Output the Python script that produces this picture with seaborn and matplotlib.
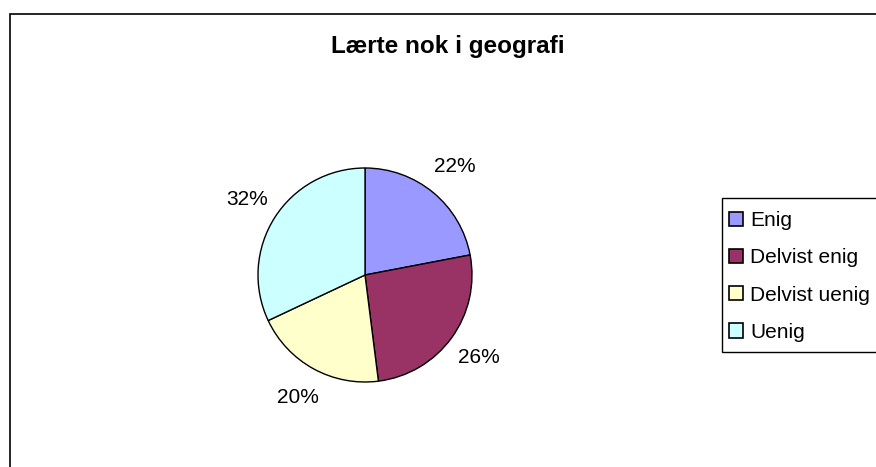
import matplotlib
matplotlib.use("Agg")
import matplotlib.pyplot as plt
import seaborn as sns
from matplotlib.patches import Rectangle, Patch

sns.set_theme(style="white")
plt.rcParams['font.family'] = ['Liberation Sans', 'DejaVu Sans']

title = "Lærte nok i geografi"
categories = ["Enig", "Delvist enig", "Delvist uenig", "Uenig"]
values = [22, 26, 20, 32]
colors = ["#9999FF", "#993366", "#FFFFCC", "#CCFFFF"]

W, H = 876, 467
fig = plt.figure(figsize=(W / 100, H / 100), dpi=100)
fig.patch.set_facecolor("white")

# outer chart frame (extends past right/bottom edges)
fig.patches.append(Rectangle((10 / W, -0.2), 1.5, 1.2 - 14 / H,
                             transform=fig.transFigure, fill=False,
                             edgecolor="black", linewidth=1.2))

cx, cy, r = 365, 275, 107
ax = fig.add_axes([(cx - r) / W, (H - cy - r) / H, 2 * r / W, 2 * r / H])
wedges, texts, autotexts = ax.pie(
    values, colors=colors, startangle=90, counterclock=False,
    autopct="%1.0f%%", pctdistance=1.31,
    wedgeprops=dict(edgecolor="black", linewidth=1.0),
    textprops=dict(fontsize=15, color="black"))
ax.set_xlim(-1, 1)
ax.set_ylim(-1, 1)
ax.set_aspect("equal")
ax.axis("off")

fig.text(448 / W, 1 - 46 / H, title, ha="center", va="center",
         fontsize=17.5, fontweight="bold", color="black")

# legend frame (extends past right edge)
fig.patches.append(Rectangle((722 / W, 1 - 352 / H), 1.0, (352 - 198) / H,
                             transform=fig.transFigure, fill=True,
                             facecolor="white", edgecolor="black",
                             linewidth=1.0, zorder=1))

handles = [Patch(facecolor=c, edgecolor="black", linewidth=1.2) for c in colors]
leg = fig.legend(handles, categories, loc="upper left",
                 bbox_to_anchor=(722 / W, 1 - 204 / H),
                 frameon=False, fontsize=15,
                 handlelength=0.68, handleheight=0.68, handletextpad=0.33,
                 labelspacing=0.87, borderpad=0.35, borderaxespad=0)
leg.set_zorder(5)
for t in leg.get_texts():
    t.set_color("black")

fig.savefig("out.png", dpi=100, facecolor="white")
